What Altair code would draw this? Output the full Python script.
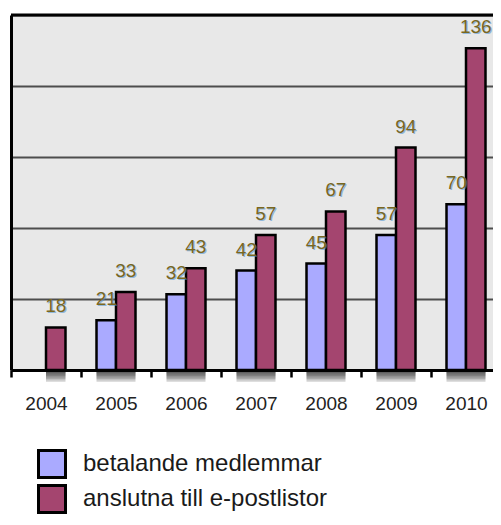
import altair as alt
import pandas as pd

years = ["2004", "2005", "2006", "2007", "2008", "2009", "2010"]
betalande = [None, 21, 32, 42, 45, 57, 70]
anslutna = [18, 33, 43, 57, 67, 94, 136]
series_names = ["betalande medlemmar", "anslutna till e-postlistor"]
series_colors = ["#aaaaff", "#a4456f"]
y_ticks = [0, 30, 60, 90, 120, 150]

rows = []
for i, yr in enumerate(years):
    for name, vals in zip(series_names, [betalande, anslutna]):
        if vals[i] is not None:
            rows.append({"year": yr, "series": name, "value": vals[i]})
df = pd.DataFrame(rows)

FONT = "Liberation Sans"

x = alt.X(
    "year:N", sort=years,
    scale=alt.Scale(paddingInner=0.443, paddingOuter=0.2215),
    axis=alt.Axis(title=None, labelAngle=0, labelFontSize=19, tickOffset=-35, labelOffset=35,
                  labelFont=FONT, labelColor="#222222", labelPadding=17, tickSize=7,
                  tickWidth=2.5, tickColor="black", domainColor="black", domainWidth=3,
                  grid=False, zindex=1),
)
xo = alt.XOffset("series:N", sort=series_names,
                 scale=alt.Scale(domain=series_names, paddingInner=0, paddingOuter=0))
y = alt.Y(
    "value:Q",
    scale=alt.Scale(domain=[0, 150], nice=False),
    axis=alt.Axis(title=None, values=y_ticks, labels=False, ticks=False, grid=True,
                  gridColor="#4d4d4d", gridWidth=2, domainColor="black", domainWidth=3),
)

base = alt.Chart(df)

shadow_steps = [2.5 * k for k in range(1, 9)]
shadows = [
    base.mark_bar(color="black", opacity=0.13, xOffset=d, yOffset=d * 0.6).encode(
        x=x, xOffset=xo, y=y)
    for d in shadow_steps
]

bars = base.mark_bar(stroke="black", strokeWidth=2.5, opacity=1).encode(
    x=x, xOffset=xo, y=y,
    color=alt.Color(
        "series:N", sort=series_names,
        scale=alt.Scale(domain=series_names, range=series_colors),
        legend=alt.Legend(title=None, orient="none", legendX=26, legendY=434,
                          symbolType="square", symbolSize=729, symbolStrokeColor="black",
                          symbolStrokeWidth=3, symbolOpacity=1, labelFontSize=24,
                          labelFont=FONT, labelColor="#1a1a1a", labelOffset=16,
                          rowPadding=-10, padding=0, labelLimit=400),
    ),
)

glow = base.mark_text(dx=1, dy=-14, baseline="alphabetic", fontSize=19, font=FONT,
                      color="#4a90d0", opacity=0.55).encode(
    x=x, xOffset=xo, y=y, text="value:Q")
labels = base.mark_text(dy=-15, baseline="alphabetic", fontSize=19, font=FONT,
                        color="#7a671e").encode(
    x=x, xOffset=xo, y=y, text="value:Q")

top = alt.Chart(pd.DataFrame({"v": [150]})).mark_rule(color="black", strokeWidth=3).encode(
    y=alt.datum(150))

chart = alt.layer(*shadows, bars, glow, labels, top).properties(
    width=490, height=355,
    padding={"left": 3, "top": 7, "right": -8, "bottom": 144},
    autosize=alt.AutoSizeParams(type="none"),
).configure_view(fill="#e8e8e8", stroke="transparent")

chart.save("out.html", embed_options={"renderer": "svg", "actions": False})
